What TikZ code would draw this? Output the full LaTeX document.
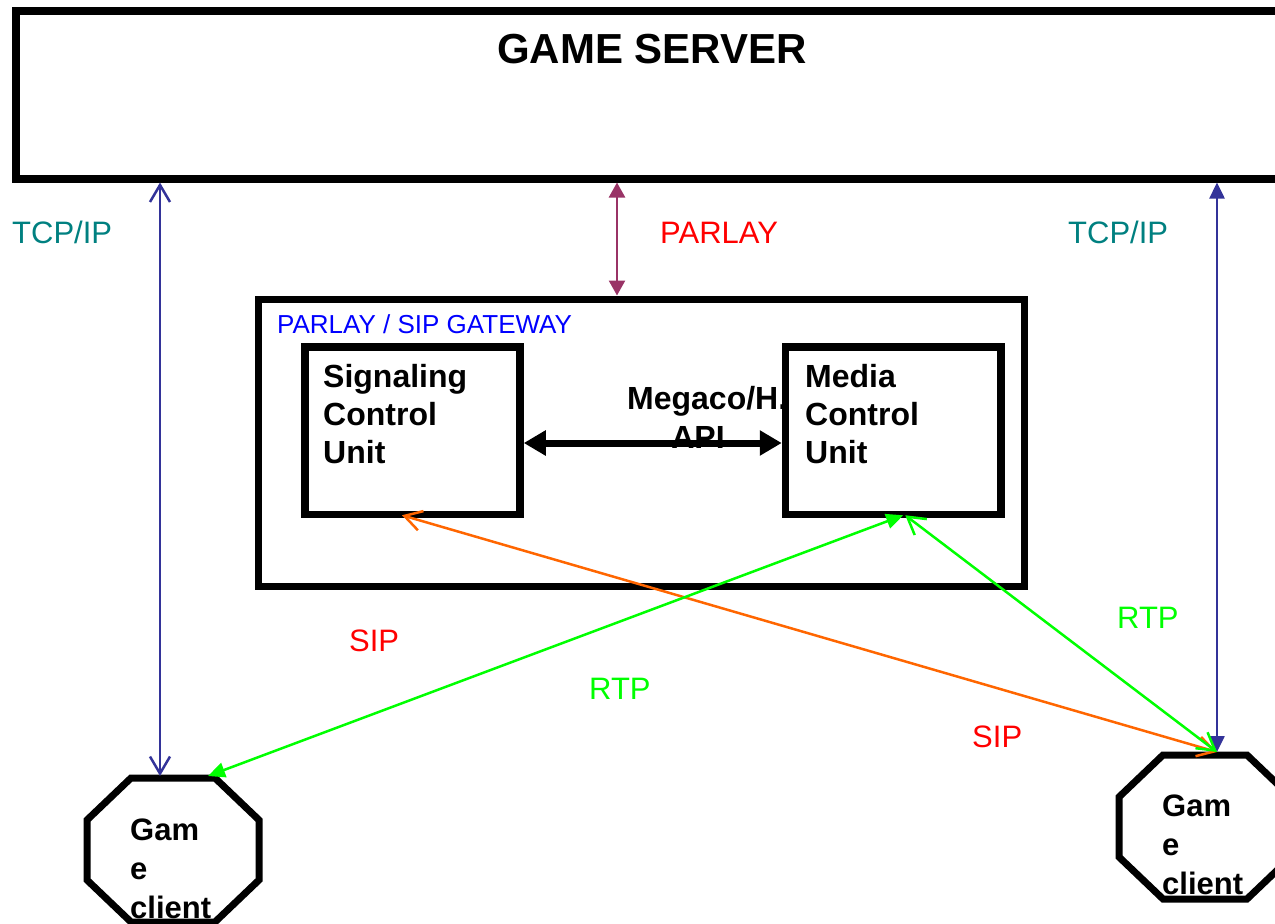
\documentclass[tikz,border=0pt]{standalone}
\usepackage{fontspec}
\setmainfont{Liberation Sans}
\usetikzlibrary{arrows.meta,calc}
\definecolor{navy}{HTML}{333399}
\definecolor{plum}{HTML}{993366}
\definecolor{tealx}{HTML}{008080}
\definecolor{orng}{HTML}{FF6600}
\definecolor{grn}{HTML}{00FF00}
\begin{document}
\begin{tikzpicture}[x=1pt,y=-1pt,
  box/.style={draw, rectangle, fill=white, inner sep=0pt, line width=7.5pt},
  lbl/.style={font=\fontsize{31}{38}\selectfont, inner sep=0pt, anchor=base west},
  unit/.style={font=\bfseries\fontsize{32}{38}\selectfont, align=left, inner sep=0pt, anchor=north west},
  clienttext/.style={font=\bfseries\fontsize{31}{39}\selectfont, align=left, inner sep=0pt, anchor=north west},
  oct/.style={draw, line width=7pt, fill=white},
  conn/.style={line width=2.5pt},
  openboth/.style={{Straight Barb[length=17pt,width=20pt]}-{Straight Barb[length=17pt,width=20pt]}},
  fillboth/.style={{Triangle[length=16pt,width=15pt]}-{Triangle[length=16pt,width=15pt]}},
  bigboth/.style={{Triangle[length=22pt,width=24pt]}-{Triangle[length=22pt,width=24pt]}}
]
\useasboundingbox (0,0) rectangle (1275,924);
\clip (0,0) rectangle (1275,924);

% game server
\node[box, line width=8pt, minimum width=1284pt, minimum height=167.5pt] (gs) at (658,94.75) {};
\node[font=\bfseries\fontsize{42}{50}\selectfont, inner sep=0pt, anchor=base] (gstitle) at (652,63) {GAME SERVER};

% gateway
\node[box, line width=7pt, minimum width=766pt, minimum height=287.5pt] (gw) at (641,442.75) {};
\node[lbl, font=\fontsize{26}{30}\selectfont, blue] (gwlabel) at (277,333) {PARLAY / SIP GATEWAY};

% units
\node[box, minimum width=215pt, minimum height=167.5pt] (scu) at (412.5,430.75) {};
\node[unit] (scutext) at (323,364) {Signaling\\Control\\Unit};
\node[unit, anchor=base west] (meg) at (627,409) {Megaco/H.};
\node[unit, anchor=base] (api) at (698,448) {API};
\node[box, minimum width=215.5pt, minimum height=167.5pt] (mcu) at (893.25,430.75) {};
\node[unit] (mcutext) at (805,364) {Media\\Control\\Unit};

\draw[line width=7pt, bigboth] ([yshift=-12.25pt]scu.east) -- ([yshift=-12.25pt]mcu.west);

% game clients
\draw[oct] (173,850) ++(-42,-72) -- ++(84,0) -- ++(44,42) -- ++(0,60) -- ++(-44,42) -- ++(-84,0) -- ++(-44,-42) -- ++(0,-60) -- cycle;
\node[clienttext] (lctext) at (130,818.5) {Gam\\e\\client};
\coordinate (lcn) at (160,776);
\coordinate (lcne) at (208,776);

\draw[oct] (1205,827) ++(-42,-72) -- ++(84,0) -- ++(44,42) -- ++(0,60) -- ++(-44,42) -- ++(-84,0) -- ++(-44,-42) -- ++(0,-60) -- cycle;
\node[clienttext] (rctext) at (1162,794.5) {Gam\\e\\client};
\coordinate (rcn) at (1217,752);

% connectors
\draw[conn, navy, openboth] (lcn) -- (lcn |- gs.south);
\draw[conn, navy, fillboth] (rcn) -- (rcn |- gs.south);
\draw[conn, plum, {Triangle[length=15pt,width=16pt]}-{Triangle[length=15pt,width=16pt]}] ([xshift=-24pt]gw.north) -- ([xshift=-24pt]gw.north |- gs.south);
\draw[conn, orng, openboth] ([xshift=-10.5pt,yshift=3pt]scu.south) -- (rcn);
\draw[conn, grn, {Triangle[length=17pt,width=15pt]}-{Triangle[length=17pt,width=15pt]}] (lcne) -- ([xshift=10pt,yshift=3pt]mcu.south);
\draw[conn, grn, openboth] ([xshift=12pt,yshift=3pt]mcu.south) -- (rcn);

% labels
\node[lbl, tealx] (tcpl) at (12,243) {TCP/IP};
\node[lbl, red] (parlay) at (660,243) {PARLAY};
\node[lbl, tealx] (tcpr) at (1068,243) {TCP/IP};
\node[lbl, red] (sipl) at (349,651) {SIP};
\node[lbl, grn] (rtpc) at (589,699) {RTP};
\node[lbl, grn] (rtpr) at (1117,628) {RTP};
\node[lbl, red] (sipr) at (972,747) {SIP};
\end{tikzpicture}
\end{document}
